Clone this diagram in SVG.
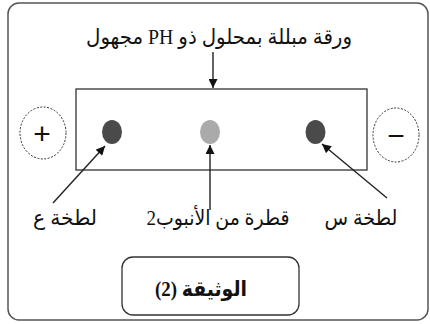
<svg xmlns="http://www.w3.org/2000/svg" width="430" height="324" viewBox="0 0 430 324">
<defs>
<marker id="ah" viewBox="0 0 10 10" refX="10" refY="5" markerWidth="10" markerHeight="9" markerUnits="userSpaceOnUse" orient="auto">
<path d="M0,0 L10,5 L0,10 z" fill="#111"/>
</marker>
<style>
.lbl{font-family:"Liberation Serif","DejaVu Sans",serif;font-size:21px;fill:#111;text-anchor:middle;direction:rtl}
.conn{stroke:#222;stroke-width:1.4;fill:none;marker-end:url(#ah)}
.pole{fill:#fff;stroke:#333;stroke-width:1;stroke-dasharray:2 1.5}
.sign{font-family:"Liberation Sans",sans-serif;font-size:30px;fill:#111;text-anchor:middle}
</style>
</defs>
<rect width="430" height="324" fill="#fff"/>
<rect id="frame" x="8" y="3" width="420" height="317" rx="11" fill="none" stroke="#555" stroke-width="1.5"/>
<g id="title"><text class="lbl" x="219" y="44" textLength="266" lengthAdjust="spacingAndGlyphs">ورقة مبللة بمحلول ذو PH مجهول</text></g>
<g id="paper"><rect x="76" y="89" width="291" height="81" fill="#fff" stroke="#333" stroke-width="1.3"/></g>
<g id="anode"><ellipse class="pole" cx="43" cy="133" rx="23" ry="26"/><text class="sign" x="42" y="144">+</text></g>
<g id="cathode"><ellipse class="pole" cx="396" cy="135" rx="23" ry="27"/><text class="sign" x="396" y="146">−</text></g>
<g id="spot-left"><ellipse cx="112" cy="132" rx="10" ry="12" fill="#4a4a4a"/></g>
<g id="spot-mid"><ellipse cx="210" cy="132" rx="10" ry="12" fill="#aaaaaa"/></g>
<g id="spot-right"><ellipse cx="315.5" cy="132" rx="10" ry="12" fill="#4a4a4a"/></g>
<g id="label-left"><text class="lbl" x="65" y="225" textLength="64" lengthAdjust="spacingAndGlyphs">لطخة ع</text></g>
<g id="label-mid"><text class="lbl" x="218" y="225" textLength="143" lengthAdjust="spacingAndGlyphs">قطرة من الأنبوب2</text></g>
<g id="label-right"><text class="lbl" x="361" y="225" textLength="73" lengthAdjust="spacingAndGlyphs">لطخة س</text></g>
<g id="doc"><rect x="122" y="257" width="177" height="58" rx="11" fill="#fff" stroke="#333" stroke-width="1.3"/><text class="lbl" x="201" y="296" textLength="92" lengthAdjust="spacingAndGlyphs" style="font-weight:bold">الوثيقة (2)</text></g>
<g id="connectors">
<line class="conn" x1="213" y1="52" x2="213" y2="88"/>
<line class="conn" x1="53" y1="203" x2="105" y2="146"/>
<line class="conn" x1="210" y1="210" x2="210" y2="145"/>
<line class="conn" x1="387" y1="198" x2="322" y2="144"/>
</g>
</svg>
